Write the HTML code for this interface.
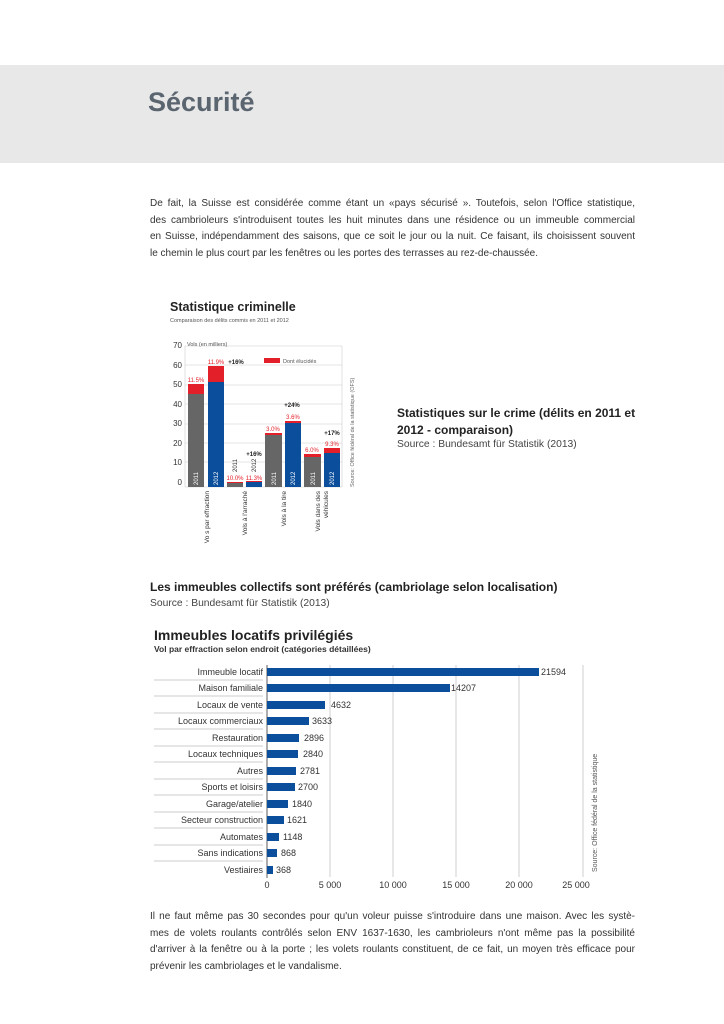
<!DOCTYPE html>
<html><head><meta charset="utf-8"><style>
body{margin:0;width:724px;height:1024px;background:#fff;position:relative;font-family:"Liberation Sans",sans-serif;color:#333;overflow:hidden}
.band{position:absolute;left:0;top:65px;width:724px;height:98px;background:#e8e8e8}
.h1{position:absolute;left:148px;top:87px;font-size:27px;font-weight:bold;color:#5a6570}
.p{position:absolute;left:150px;width:485px;font-size:10px;line-height:16.5px;color:#333}
.p div{text-align:justify;text-align-last:justify;white-space:nowrap}
.p div.l{text-align-last:left}
.t{position:absolute;font-size:12px;font-weight:bold;color:#222}
.s{position:absolute;font-size:10.3px;color:#444}
svg{position:absolute;left:0;top:0}
</style></head><body>
<div class="band"></div>
<div class="h1">Sécurité</div>
<div class="p" style="top:196px">
<div>De fait, la Suisse est considérée comme étant un «pays sécurisé ». Toutefois, selon l'Office statistique,</div>
<div>des cambrioleurs s'introduisent toutes les huit minutes dans une résidence ou un immeuble commercial</div>
<div>en Suisse, indépendamment des saisons, que ce soit le jour ou la nuit. Ce faisant, ils choisissent souvent</div>
<div class="l">le chemin le plus court par les fenêtres ou les portes des terrasses au rez-de-chaussée.</div>
</div>
<div class="t" style="left:397px;top:405px;line-height:17px;width:260px">Statistiques sur le crime (délits en 2011 et 2012 - comparaison)</div>
<div class="s" style="left:397px;top:439px">Source : Bundesamt für Statistik (2013)</div>
<div class="t" style="left:150px;top:580px">Les immeubles collectifs sont préférés (cambriolage selon localisation)</div>
<div class="s" style="left:150px;top:598px">Source : Bundesamt für Statistik (2013)</div>
<div class="p" style="top:909px">
<div>Il ne faut même pas 30 secondes pour qu'un voleur puisse s'introduire dans une maison. Avec les systè-</div>
<div>mes de volets roulants contrôlés selon ENV 1637-1630, les cambrioleurs n'ont même pas la possibilité</div>
<div>d'arriver à la fenêtre ou à la porte ; les volets roulants constituent, de ce fait, un moyen très efficace pour</div>
<div class="l">prévenir les cambriolages et le vandalisme.</div>
</div>
<svg width="724" height="1024" font-family="Liberation Sans, sans-serif">
<text x="170" y="311" font-size="12.5" font-weight="bold" fill="#222">Statistique criminelle</text>
<text x="170" y="322" font-size="5.5" fill="#555">Comparaison des délits commis en 2011 et 2012</text>
<g stroke="#ccc" stroke-width="0.6">
<line x1="185" y1="346" x2="342" y2="346"/><line x1="185" y1="365" x2="342" y2="365"/><line x1="185" y1="385" x2="342" y2="385"/><line x1="185" y1="404" x2="342" y2="404"/><line x1="185" y1="424" x2="342" y2="424"/><line x1="185" y1="443" x2="342" y2="443"/><line x1="185" y1="462" x2="342" y2="462"/><line x1="185" y1="487" x2="342" y2="487"/>
<line x1="185" y1="346" x2="185" y2="487"/><line x1="342" y1="346" x2="342" y2="487"/>
</g>
<g font-size="8" fill="#333" text-anchor="end">
<text x="182" y="348">70</text><text x="182" y="368">60</text><text x="182" y="387">50</text><text x="182" y="407">40</text><text x="182" y="426">30</text><text x="182" y="446">20</text><text x="182" y="465">10</text><text x="182" y="485">0</text></g>
<text x="187" y="346" font-size="5.5" fill="#555">Vols (en milliers)</text>
<rect x="264" y="358" width="16" height="5" fill="#e3202a"/><text x="283" y="363" font-size="5.5" fill="#555">Dont élucidés</text>
<g fill="#e3202a"><rect x="188" y="384" width="16" height="103"/><rect x="208" y="366" width="16" height="121"/><rect x="265" y="433" width="17" height="54"/><rect x="285" y="421" width="16" height="66"/><rect x="304" y="454" width="17" height="33"/><rect x="324" y="448" width="16" height="39"/><rect x="227" y="482" width="16" height="5"/><rect x="246" y="481" width="16" height="6"/></g>
<g fill="#666"><rect x="188" y="394" width="16" height="93"/><rect x="265" y="435" width="17" height="52"/><rect x="304" y="457" width="17" height="30"/><rect x="227" y="483" width="16" height="4"/></g>
<g fill="#0b4f9c"><rect x="208" y="382" width="16" height="105"/><rect x="285" y="423" width="16" height="64"/><rect x="324" y="453" width="16" height="34"/><rect x="246" y="482" width="16" height="5"/></g>
<g font-size="6" fill="#e3202a" text-anchor="middle"><text x="196" y="382">11.5%</text><text x="216" y="364">11.9%</text><text x="235" y="480">10.0%</text><text x="254" y="480">11.3%</text><text x="273" y="431">3.0%</text><text x="293" y="419">3.6%</text><text x="312" y="452">6.0%</text><text x="332" y="446">9.3%</text></g>
<g font-size="6" font-weight="bold" fill="#222" text-anchor="middle"><text x="236" y="364">+16%</text><text x="254" y="456">+16%</text><text x="292" y="407">+24%</text><text x="332" y="435">+17%</text></g>
<g font-size="6" fill="#fff"><text transform="translate(198,485) rotate(-90)">2011</text><text transform="translate(218,485) rotate(-90)">2012</text><text transform="translate(276,485) rotate(-90)">2011</text><text transform="translate(295,485) rotate(-90)">2012</text><text transform="translate(315,485) rotate(-90)">2011</text><text transform="translate(334,485) rotate(-90)">2012</text></g>
<g font-size="6" fill="#333"><text transform="translate(237,472) rotate(-90)">2011</text><text transform="translate(256,472) rotate(-90)">2012</text></g>
<g font-size="6.5" fill="#333" text-anchor="end"><text transform="translate(209,491) rotate(-90)">Vo s par effraction</text><text transform="translate(247,491) rotate(-90)">Vols à l'arraché</text><text transform="translate(286,491) rotate(-90)">Vols à la tire</text><text transform="translate(320,491) rotate(-90)">Vols dans des</text><text transform="translate(328,491) rotate(-90)">véhicules</text></g>
<text transform="translate(354,487) rotate(-90)" font-size="5.5" fill="#666">Source: Office fédéral de la statistique (OFS)</text>

<text x="154" y="640" font-size="14" font-weight="bold" fill="#222">Immeubles locatifs privilégiés</text>
<text x="154" y="652" font-size="8.5" font-weight="bold" fill="#333">Vol par effraction selon endroit (catégories détaillées)</text>
<g stroke="#bbb" stroke-width="0.7"><line x1="330" y1="665" x2="330" y2="877"/><line x1="393" y1="665" x2="393" y2="877"/><line x1="456" y1="665" x2="456" y2="877"/><line x1="519" y1="665" x2="519" y2="877"/><line x1="583" y1="665" x2="583" y2="877"/></g>
<g stroke="#999" stroke-width="0.6">
<line x1="154" y1="680" x2="263" y2="680"/><line x1="154" y1="696" x2="263" y2="696"/><line x1="154" y1="713" x2="263" y2="713"/><line x1="154" y1="729" x2="263" y2="729"/><line x1="154" y1="746" x2="263" y2="746"/><line x1="154" y1="762" x2="263" y2="762"/><line x1="154" y1="779" x2="263" y2="779"/><line x1="154" y1="795" x2="263" y2="795"/><line x1="154" y1="812" x2="263" y2="812"/><line x1="154" y1="828" x2="263" y2="828"/><line x1="154" y1="845" x2="263" y2="845"/><line x1="154" y1="861" x2="263" y2="861"/></g>
<line x1="267" y1="665" x2="267" y2="878" stroke="#333" stroke-width="0.8"/>
<g fill="#0b4f9c">
<rect x="267" y="668" width="272" height="8"/><rect x="267" y="684" width="183" height="8"/><rect x="267" y="701" width="58" height="8"/><rect x="267" y="717" width="42" height="8"/><rect x="267" y="734" width="32" height="8"/><rect x="267" y="750" width="31" height="8"/><rect x="267" y="767" width="29" height="8"/><rect x="267" y="783" width="28" height="8"/><rect x="267" y="800" width="21" height="8"/><rect x="267" y="816" width="17" height="8"/><rect x="267" y="833" width="12" height="8"/><rect x="267" y="849" width="10" height="8"/><rect x="267" y="866" width="6" height="8"/></g>
<g font-size="9" fill="#333" text-anchor="end">
<text x="263" y="675">Immeuble locatif</text><text x="263" y="691">Maison familiale</text><text x="263" y="708">Locaux de vente</text><text x="263" y="724">Locaux commerciaux</text><text x="263" y="741">Restauration</text><text x="263" y="757">Locaux techniques</text><text x="263" y="774">Autres</text><text x="263" y="790">Sports et loisirs</text><text x="263" y="807">Garage/atelier</text><text x="263" y="823">Secteur construction</text><text x="263" y="840">Automates</text><text x="263" y="856">Sans indications</text><text x="263" y="873">Vestiaires</text></g>
<g font-size="9" fill="#333">
<text x="541" y="675">21594</text><text x="451" y="691">14207</text><text x="331" y="708">4632</text><text x="312" y="724">3633</text><text x="304" y="741">2896</text><text x="303" y="757">2840</text><text x="300" y="774">2781</text><text x="298" y="790">2700</text><text x="292" y="807">1840</text><text x="287" y="823">1621</text><text x="283" y="840">1148</text><text x="281" y="856">868</text><text x="276" y="873">368</text></g>
<g font-size="9" fill="#333" text-anchor="middle"><text x="267" y="888">0</text><text x="330" y="888">5 000</text><text x="393" y="888">10 000</text><text x="456" y="888">15 000</text><text x="519" y="888">20 000</text><text x="576" y="888">25 000</text></g>
<text transform="translate(597,872) rotate(-90)" font-size="7" fill="#555">Source: Office fédéral de la statistique</text>
</svg>
</body></html>
